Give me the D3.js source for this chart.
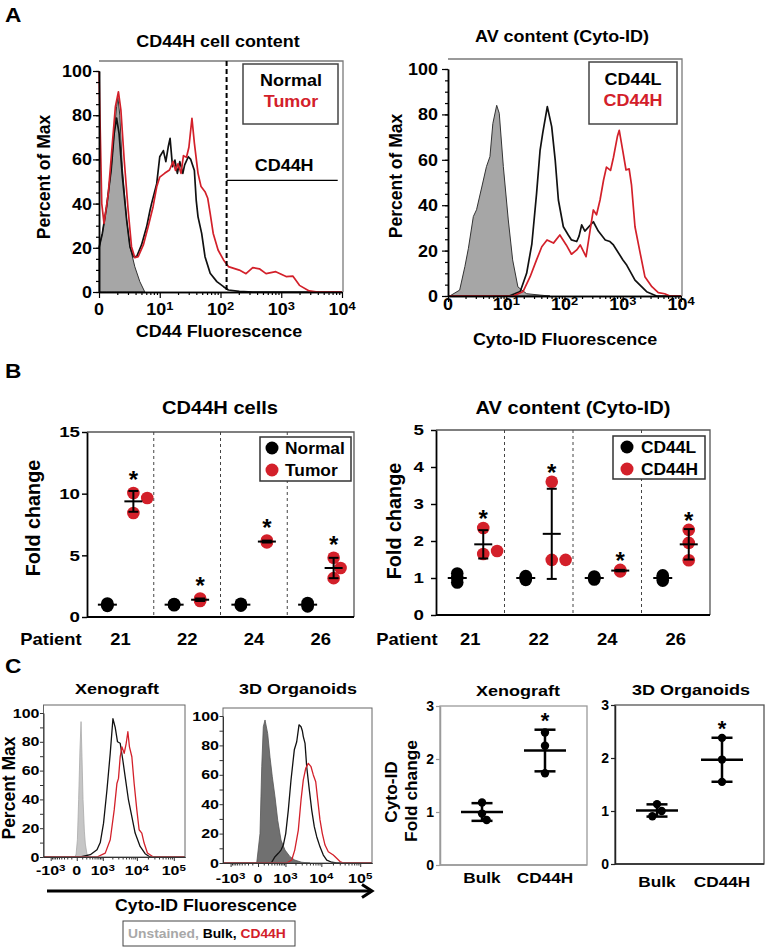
<!DOCTYPE html>
<html><head><meta charset="utf-8">
<script src="https://cdn.jsdelivr.net/npm/d3@7"></script>
<style>body{margin:0;background:#fff}svg{display:block}</style>
</head><body><svg id="fig" width="765" height="947"></svg>
<script>
// ================= DATA =================
// Panel A: log-scale fluorescence histograms [fluorescence, percent of max]
const logTicks = [1, 10, 100, 1000, 10000];
const pctTicks = [0, 20, 40, 60, 80, 100];

const cd44Isotype = [[1,0],[1,20],[1.135,26.5],[1.334,38.6],[1.585,55.2],[1.778,72],[1.95,84],[2.05,88],[2.2,80],[2.427,56],[2.851,32.6],[3.236,20.5],[3.89,11.4],[4.7,4.7],[5.68,0]];
const cd44Normal = [[1,20],[1.135,26.5],[1.334,38.6],[1.585,55.2],[1.778,71.8],[1.95,78.7],[2.138,71.8],[2.427,52.2],[2.851,32.6],[3.236,20.5],[3.673,16],[4.169,16],[5.012,21.3],[6.095,29.6],[6.918,37],[7.33,40],[8.913,49],[10,61.2],[11.48,64],[12.59,59],[13.8,65.7],[14.79,69.5],[16.22,56.7],[17.78,59.7],[19.5,53.7],[21.38,59],[23.99,53.7],[25.7,57.5],[29.51,61.2],[32.36,60],[37.15,55],[39.81,41.6],[42.66,34],[48.98,26.5],[55.6,16],[67.6,8.5],[87.1,4.7],[112.2,2.4],[134.9,0.9],[204,0.3],[339,0],[10000,0]];
const cd44Tumor = [[1,100],[1.11,40],[1.21,31],[1.422,44.6],[1.66,67.3],[1.862,83.9],[2.089,90.6],[2.291,82.4],[2.6,59.7],[3.02,37],[3.428,20.5],[3.89,15.5],[4.416,16],[5.37,21.3],[6.457,29.6],[7.762,38.6],[8.913,47.6],[10,52],[12.02,53.7],[14.45,55.2],[16.6,59],[18.2,55],[19.95,58],[22.39,53.7],[24.55,61.7],[27.54,61],[30.2,65.5],[33.88,78.6],[37.15,67.4],[42.66,53.7],[47.86,47.7],[55.6,45.4],[61.66,42.4],[67.6,35.6],[75.86,26.5],[91.2,19],[112.2,14.5],[134.9,11.5],[204,9.9],[263,8.3],[339,11],[436.5,10.5],[562,8.3],[813,9.2],[1202,7],[1549,7.2],[1995,3],[2884,0.5],[3981,0],[10000,0]];
const cd44HGate = [126, 8500, 50.5]; // gate start, gate end, level (%)

const cytoUnstainedA = [[1.072,0],[1.585,2.6],[1.95,13],[2.239,21],[2.723,35],[3.09,38],[3.802,48],[4.571,57],[5.248,61.4],[5.888,76],[6.855,84],[7.586,80.5],[8.913,57],[10.84,33.5],[12.88,15.9],[15.85,4],[22.39,1],[38.02,0.4],[56.23,0]];
const cytoCD44L_A = [[1,0],[11.22,0],[17.38,2],[22.39,10],[27.54,23],[33.11,45],[38.02,64],[42.27,71.7],[50.7,83.4],[60.26,74.6],[69.18,60],[78.52,42.3],[95.5,30.5],[116.1,26.9],[131.8,24.7],[162.2,24],[177.8,26.4],[197.2,31.3],[223.9,28.6],[312.6,32.7],[380.2,28.6],[501.2,24.7],[602.6,24],[691.8,22.5],[1000,16],[1175,13.5],[1622,7],[2570,1.9],[3802,0],[10000,0]];
const cytoCD44H_A = [[1,0],[13.18,0],[19.5,2],[25.7,8.5],[33.11,15.9],[40.74,21.7],[50.12,24.7],[64.57,23.3],[83.18,26.9],[107.2,22.5],[131.8,18.4],[162.2,20.3],[186.2,22.5],[234.4,17.3],[275.4,29],[312.6,37.9],[354.8,35.8],[407.4,42.3],[467.7,51],[524.8,56.8],[616.6,55.3],[691.8,61],[812.8,70.5],[871,73],[1000,64],[1138,55.5],[1288,56],[1413,49],[1622,30.5],[1995,18.8],[2399,8.5],[3162,4.1],[4074,1.5],[5248,1],[6457,0],[10000,0]];

// Panel B: fold change per patient (3 replicates each)
const patients = ["21", "22", "24", "26"];
const cd44hNormal = [[0.9,1.0,1.1],[0.95,1.0,1.05],[0.92,1.0,1.08],[0.86,1.0,1.14]];
const cd44hTumor  = [[8.43,10.05,9.65],[1.3,1.5,1.4],[6.05,6.2,6.1],[3.15,4.8,3.97]];
const avCD44L = [[0.88,1.0,1.12],[0.95,1.0,1.05],[0.96,1.0,1.04],[0.93,1.0,1.07]];
const avCD44H = [[1.65,2.35,1.73],[1.49,3.6,1.49],[1.18,1.2,1.22],[2.3,1.48,1.95]];

// Panel C: biexponential histograms [fluorescence, percent max]
const biexDomain = [-1700, 200000];
const biexTicks = [-1000, 0, 1000, 10000, 100000];
const biexMinor = [-900,-800,-700,-600,-500,-400,-300,-200,-100,100,200,300,400,500,600,700,800,900,2000,3000,4000,5000,6000,7000,8000,9000,20000,30000,40000,50000,60000,70000,80000,90000];
const xenoUnstained = [[-30,0],[-10,2],[10,12],[31,40],[55,75],[76,94],[95,70],[118,40],[150,18],[175,9],[220,2],[260,0]];
const xenoBulk = [[-1700,0],[62,0],[327,1.6],[622,5],[818,10],[1058,23.5],[1364,46.5],[1727,72],[2085,96],[2438,90],[2848,80],[3408,79],[4068,67],[4725,55.7],[5846,39.6],[7263,28],[8950,16.6],[12270,7.3],[16800,2.3],[22900,0],[200000,0]];
const xenoCD44H = [[-1700,0],[622,0],[1203,2.7],[1727,12],[2278,32.7],[2735,51],[3043,54.6],[3408,69.6],[3812,76.5],[4428,72],[5040,78.8],[5625,87],[6230,76.5],[7263,69.6],[8410,51],[9970,32.7],[11525,18.9],[13650,16.6],[15775,9.7],[19375,2.8],[28125,0],[200000,0]];
const orgUnstained = [[-20,0],[31,20],[61,65.5],[91,92.7],[127,97.3],[191,88],[255,72],[328,58.7],[427,45],[545,29],[713,15.6],[969,8.8],[1383,4.3],[1905,2],[2993,0.5],[5030,0]];
const orgBulk = [[-1700,0],[250,0],[308,0.5],[427,4.3],[572,6.6],[713,8.8],[853,12.2],[1020,20],[1228,36],[1481,56.5],[1852,77],[2170,82.5],[2520,94],[2866,92.7],[3110,90],[3312,86],[3690,81.4],[4097,65.5],[4817,49.7],[5585,36],[6535,24.7],[7570,17.9],[9230,11],[11270,5.4],[13830,2],[18600,0.5],[25000,0],[200000,0]];
const orgCD44H = [[-1700,0],[1096,0],[1555,2],[1905,8.8],[2408,22.4],[2866,42.9],[3312,56.5],[3852,64.4],[4527,67.8],[5350,65.5],[6155,59.9],[7130,55.3],[8045,42.9],[9230,29.3],[10590,20.2],[12470,12.2],[15180,7.7],[20450,5.4],[25000,3.2],[30400,1],[37100,0],[200000,0]];

// Panel C: Cyto-ID fold change
const cytoGroups = ["Bulk", "CD44H"];
const foldTicks = [0, 1, 2, 3];
const xenoFold = [[1.18,0.97,0.85],[2.5,2.25,1.73]];
const orgFold  = [[1.13,1.0,0.9],[2.38,1.97,1.55]];

// ================= DRAWING =================
const FONT = '"Liberation Sans", Arial, Helvetica, sans-serif';
const RED = "#d3202a";
const svg = d3.select("#fig");
svg.append("rect").attr("width", 765).attr("height", 947).attr("fill", "#fff");

function label(g, x, y, content, size, o = {}) {
  const t = g.append("text")
    .attr("transform", o.rotate ? `translate(${x},${y}) rotate(-90)` : `translate(${x},${y}) scale(${o.sx || 1},1)`)
    .attr("font-family", FONT).attr("font-weight", "bold").attr("font-size", size)
    .attr("text-anchor", o.anchor || "middle").attr("fill", o.fill || "#000");
  const parts = Array.isArray(content) ? content : [{ t: content }];
  parts.forEach(p => {
    const s = t.append("tspan").text(p.t);
    if (p.fill) s.attr("fill", p.fill);
    if (p.sup) s.attr("dy", "-0.42em").attr("font-size", size * 0.72);
  });
  return t;
}
const pow10 = (e, neg) => [{ t: (neg ? "-" : "") + "10" }, { t: String(e), sup: true }];

function styleAxis(sel, color = "#000", w = 1.5) {
  sel.select(".domain").attr("stroke", color).attr("stroke-width", w);
  sel.selectAll(".tick line").attr("stroke", color).attr("stroke-width", Math.max(1, w * 0.8));
  sel.selectAll(".tick text").remove();
}

// ---------- Panel A ----------
function logHistPanel(p) {
  const g = svg.append("g");
  const x = d3.scaleLog().domain([logTicks[0], logTicks[logTicks.length - 1]]).range([p.x0, p.x1]);
  const y = d3.scaleLinear().domain([0, 100]).range([p.yBase, p.y100]);
  const area = d3.area().x(d => x(d[0])).y0(y(0)).y1(d => y(d[1]));
  const line = d3.line().x(d => x(d[0])).y(d => y(d[1]));
  g.append("path").attr("d", area(p.fill)).attr("fill", "#a6a6a6").attr("stroke", "#333").attr("stroke-width", 1);
  p.lines.forEach(l => g.append("path").attr("d", line(l.data)).attr("fill", "none")
    .attr("stroke", l.color).attr("stroke-width", 1.7).attr("stroke-linejoin", "round"));
  g.append("path").attr("d", `M${p.x0},${p.top}H${p.right}V${p.yBase}`).attr("fill", "none").attr("stroke", "#7a7a7a").attr("stroke-width", 1.3);
  const yg = g.append("g").attr("transform", `translate(${p.x0},0)`);
  yg.append("g").call(d3.axisLeft(y).tickValues(d3.range(0, 101, 5)).tickSize(3).tickSizeOuter(0)).call(styleAxis);
  yg.append("g").call(d3.axisLeft(y).tickValues(pctTicks).tickSize(6).tickSizeOuter(0)).call(styleAxis);
  pctTicks.forEach(v => label(g, p.yLabelX, y(v) + 6, String(v), 16.3, { anchor: "end", sx: 1.1 }));
  const minor = [];
  logTicks.slice(0, -1).forEach(d => { for (let k = 2; k < 10; k++) minor.push(d * k); });
  const xg = g.append("g").attr("transform", `translate(0,${p.yBase})`);
  xg.append("g").call(d3.axisBottom(x).tickValues(minor).tickSize(3).tickSizeOuter(0)).call(styleAxis);
  xg.append("g").call(d3.axisBottom(x).tickValues(logTicks).tickSize(6).tickSizeOuter(0)).call(styleAxis);
  logTicks.forEach((v, i) => label(g, x(v), p.xLabelY, i === 0 ? "0" : pow10(Math.round(Math.log10(v))), 16.3, { sx: 1.1 }));
  label(g, p.titleX, p.titleY, p.title, 16.3, { sx: 1.1 });
  label(g, p.xTitleX, p.xTitleY, p.xTitle, 16.3, { sx: 1.1 });
  label(g, p.yTitleX, p.yTitleY, "Percent of Max", 17.5, { rotate: true });
  const L = p.legend;
  g.append("rect").attr("x", L.x).attr("y", L.y).attr("width", L.w).attr("height", L.h)
    .attr("fill", "#fff").attr("stroke", "#444").attr("stroke-width", 1.5);
  L.items.forEach((it, i) => label(g, L.cx, L.base[i], it[0], 16.8, { sx: 1.07, fill: it[1] }));
  return { g, x, y };
}

const aLeft = logHistPanel({
  x0: 99, x1: 342, right: 343, top: 61, yBase: 292, y100: 71,
  fill: cd44Isotype, lines: [{ data: cd44Normal, color: "#111" }, { data: cd44Tumor, color: RED }],
  yLabelX: 92, xLabelY: 315,
  title: "CD44H cell content", titleX: 218, titleY: 47,
  xTitle: "CD44 Fluorescence", xTitleX: 219, xTitleY: 337,
  yTitleX: 50, yTitleY: 177,
  legend: { x: 243, y: 64, w: 95, h: 60, cx: 291, base: [86, 107], items: [["Normal", "#000"], ["Tumor", RED]] }
});
// dashed gate line and CD44H gate
(function () {
  const { g, x, y } = aLeft;
  g.append("line").attr("x1", x(cd44HGate[0])).attr("x2", x(cd44HGate[0])).attr("y1", 61).attr("y2", 292)
    .attr("stroke", "#000").attr("stroke-width", 2).attr("stroke-dasharray", "5,3");
  g.append("line").attr("x1", x(cd44HGate[0])).attr("x2", x(cd44HGate[1])).attr("y1", y(cd44HGate[2])).attr("y2", y(cd44HGate[2]))
    .attr("stroke", "#000").attr("stroke-width", 1.2);
  label(g, (x(cd44HGate[0]) + x(cd44HGate[1])) / 2 + 2, y(cd44HGate[2]) - 9, "CD44H", 16.8, { sx: 1.07 });
})();

logHistPanel({
  x0: 448, x1: 681, right: 682, top: 59, yBase: 296, y100: 69,
  fill: cytoUnstainedA, lines: [{ data: cytoCD44L_A, color: "#111" }, { data: cytoCD44H_A, color: RED }],
  yLabelX: 438, xLabelY: 310,
  title: "AV content (Cyto-ID)", titleX: 562, titleY: 42,
  xTitle: "Cyto-ID Fluorescence", xTitleX: 565, xTitleY: 345,
  yTitleX: 402, yTitleY: 176,
  legend: { x: 589, y: 62, w: 88, h: 62, cx: 633, base: [85, 106], items: [["CD44L", "#000"], ["CD44H", RED]] }
});

// ---------- shared dot group ----------
function swarm(ys, r, spread) {
  if (!spread) return ys.map(() => 0);
  const ext = d3.extent(ys);
  if (ext[1] - ext[0] < r) return ys.map(() => 0);
  const placed = [];
  return ys.map(py => {
    for (const k of [0, 1, -1, 2, -2]) {
      const o = k * r * 1.1;
      if (placed.every(q => Math.hypot(q[0] - o, q[1] - py) >= 1.8 * r)) { placed.push([o, py]); return o; }
    }
    placed.push([0, py]); return 0;
  });
}
function dotGroup(g, vals, cx, y, color, r, mHalf, cHalf, sw, spread) {
  const offs = swarm(vals.map(y), r, spread);
  g.append("g").selectAll("circle").data(vals).join("circle")
    .attr("cx", (d, i) => cx + offs[i]).attr("cy", d => y(d)).attr("r", r).attr("fill", color);
  const m = d3.mean(vals), sd = d3.deviation(vals);
  const lg = g.append("g").attr("stroke", "#000").attr("stroke-width", sw);
  lg.append("line").attr("x1", cx - mHalf).attr("x2", cx + mHalf).attr("y1", y(m)).attr("y2", y(m));
  lg.append("line").attr("x1", cx).attr("x2", cx).attr("y1", y(m - sd)).attr("y2", y(m + sd));
  [m - sd, m + sd].forEach(v => lg.append("line").attr("x1", cx - cHalf).attr("x2", cx + cHalf).attr("y1", y(v)).attr("y2", y(v)));
  return { m, sd, max: d3.max(vals), top: Math.max(d3.max(vals), m + sd) };
}

// ---------- Panel B ----------
function patientPanel(p) {
  const g = svg.append("g");
  const x = d3.scaleBand().domain(patients).range([p.x0, p.x1]);
  const y = d3.scaleLinear().domain([0, p.ticks[p.ticks.length - 1]]).range([p.yBase, p.yTop]);
  g.append("path").attr("d", `M${p.x0},${p.yTop}H${p.x1}V${p.yBase}`).attr("fill", "none").attr("stroke", "#555").attr("stroke-width", 1.3);
  patients.slice(1).forEach(d => g.append("line").attr("x1", x(d)).attr("x2", x(d)).attr("y1", p.yTop).attr("y2", p.yBase)
    .attr("stroke", "#444").attr("stroke-width", 1).attr("stroke-dasharray", "3,3"));
  g.append("g").attr("transform", `translate(${p.x0},0)`).call(d3.axisLeft(y).tickValues(p.ticks).tickSize(5).tickSizeOuter(0)).call(styleAxis, "#000", 1.8);
  p.ticks.forEach(v => label(g, p.tickLabelX, y(v) + 5.4, String(v), 15, { anchor: "end", sx: 1.25 }));
  g.append("line").attr("x1", p.x0).attr("x2", p.x1).attr("y1", p.yBase).attr("y2", p.yBase).attr("stroke", "#000").attr("stroke-width", 1.8);
  patients.forEach((d, i) => {
    const c = x(d) + x.bandwidth() / 2;
    dotGroup(g, p.a[i], c - 13, y, "#000", 6.3, 9.5, 5, 2, false);
    const s = dotGroup(g, p.b[i], c + 13, y, RED, 6.3, 9, 5, 2, true);
    label(g, c + 13, y(s.max) - p.starOff, "*", 24);
    label(g, c, 645, d, 16.3, { sx: 1.13 });
  });
  label(g, p.patientX, 645, "Patient", 16.3, { sx: 1.13 });
  label(g, p.titleX, 414, p.title, 18.6, { sx: 1.08 });
  label(g, p.yTitleX, p.yTitleY, "Fold change", 19.8, { rotate: true });
  const L = p.legend;
  g.append("rect").attr("x", L.x).attr("y", L.y).attr("width", L.w).attr("height", L.h)
    .attr("fill", "#fff").attr("stroke", "#333").attr("stroke-width", 1.5);
  L.items.forEach((it, i) => {
    g.append("circle").attr("cx", L.cx).attr("cy", L.cy[i]).attr("r", 6.5).attr("fill", it[1]);
    label(g, L.tx, L.cy[i] + 5.7, it[0], 15.8, { anchor: "start", sx: 1.1 });
  });
}

patientPanel({
  x0: 87, x1: 354, yBase: 617, yTop: 432, ticks: [0, 5, 10, 15], tickLabelX: 80,
  a: cd44hNormal, b: cd44hTumor, starOff: 5, patientX: 51,
  title: "CD44H cells", titleX: 220, yTitleX: 40, yTitleY: 518,
  legend: { x: 260, y: 437, w: 91, h: 44, cx: 272, tx: 285, cy: [448, 470], items: [["Normal", "#000"], ["Tumor", RED]] }
});
patientPanel({
  x0: 436, x1: 710, yBase: 615, yTop: 430, ticks: [0, 1, 2, 3, 4, 5], tickLabelX: 424,
  a: avCD44L, b: avCD44H, starOff: 1, patientX: 407,
  title: "AV content (Cyto-ID)", titleX: 573, yTitleX: 401, yTitleY: 521,
  legend: { x: 613, y: 436, w: 92, h: 43, cx: 627, tx: 641, cy: [447, 469], items: [["CD44L", "#000"], ["CD44H", RED]] }
});

// ---------- Panel C histograms ----------
function biexHistPanel(p) {
  const g = svg.append("g");
  const x = d3.scaleSymlog().constant(250).domain(biexDomain).range([p.x0, p.x1]);
  const y = d3.scaleLinear().domain([0, 100]).range([p.yBase, p.y100]);
  const area = d3.area().x(d => x(d[0])).y0(y(0)).y1(d => y(d[1]));
  const line = d3.line().x(d => x(d[0])).y(d => y(d[1]));
  g.append("path").attr("d", area(p.fill)).attr("fill", p.fillColor).attr("stroke", p.fillStroke).attr("stroke-width", 0.8);
  p.lines.forEach(l => g.append("path").attr("d", line(l.data)).attr("fill", "none")
    .attr("stroke", l.color).attr("stroke-width", 1.3).attr("stroke-linejoin", "round"));
  g.append("rect").attr("x", p.x0).attr("y", p.top).attr("width", p.x1 - p.x0).attr("height", p.yBase - p.top)
    .attr("fill", "none").attr("stroke", "#666").attr("stroke-width", 1);
  g.append("g").attr("transform", `translate(${p.x0},0)`).call(d3.axisLeft(y).tickValues(d3.range(0, 101, 10)).tickSize(3.5).tickSizeOuter(0)).call(styleAxis, "#333", 1);
  pctTicks.forEach(v => label(g, p.x0 - 4, y(v) + 4.5, String(v), 12.6, { anchor: "end", sx: 1.27 }));
  const xg = g.append("g").attr("transform", `translate(0,${p.yBase})`);
  xg.append("g").call(d3.axisBottom(x).tickValues(biexMinor).tickSize(2.5).tickSizeOuter(0)).call(styleAxis, "#333", 1);
  xg.append("g").call(d3.axisBottom(x).tickValues(biexTicks).tickSize(4).tickSizeOuter(0)).call(styleAxis, "#333", 1);
  biexTicks.forEach(v => label(g, x(v), p.xLabelY, v === 0 ? "0" : pow10(Math.round(Math.log10(Math.abs(v))), v < 0), 12.6, { sx: 1.27 }));
  label(g, p.titleX, 694, p.title, 15, { sx: 1.2 });
}
biexHistPanel({
  x0: 43.5, x1: 185, top: 705, yBase: 857, y100: 713, xLabelY: 875,
  fill: xenoUnstained, fillColor: "#c6c6c6", fillStroke: "#aaa",
  lines: [{ data: xenoBulk, color: "#111" }, { data: xenoCD44H, color: RED }],
  title: "Xenograft", titleX: 117
});
biexHistPanel({
  x0: 223, x1: 372, top: 708, yBase: 863, y100: 716, xLabelY: 883,
  fill: orgUnstained, fillColor: "#707070", fillStroke: "#555",
  lines: [{ data: orgBulk, color: "#111" }, { data: orgCD44H, color: RED }],
  title: "3D Organoids", titleX: 298
});
(function () {
  const g = svg.append("g");
  label(g, 15, 788, "Percent Max", 17.5, { rotate: true });
  g.append("line").attr("x1", 47).attr("x2", 371).attr("y1", 891).attr("y2", 891).attr("stroke", "#000").attr("stroke-width", 3);
  g.append("path").attr("d", "M362,884.5L372,891L362,897.5").attr("fill", "none").attr("stroke", "#000").attr("stroke-width", 3).attr("stroke-linejoin", "miter");
  label(g, 206, 911, "Cyto-ID Fluorescence", 15.8, { sx: 1.12 });
  g.append("rect").attr("x", 123).attr("y", 921).attr("width", 172).attr("height", 25).attr("fill", "#fff").attr("stroke", "#444").attr("stroke-width", 1);
  label(g, 128, 938, [{ t: "Unstained, ", fill: "#a8a8a8" }, { t: "Bulk, ", fill: "#000" }, { t: "CD44H", fill: RED }], 12.6, { anchor: "start", sx: 1.1 });
})();

// ---------- Panel C fold change ----------
function twoGroupPanel(p) {
  const g = svg.append("g");
  const x = d3.scalePoint().domain(cytoGroups).range([p.x0, p.x1]).padding(p.pad);
  const y = d3.scaleLinear().domain([0, foldTicks[foldTicks.length - 1]]).range([p.yBase, p.yTop]);
  g.append("rect").attr("x", p.x0).attr("y", p.yTop).attr("width", p.x1 - p.x0).attr("height", p.yBase - p.yTop)
    .attr("fill", "none").attr("stroke", p.frame).attr("stroke-width", 1.3);
  g.append("g").attr("transform", `translate(${p.x0},0)`).call(d3.axisLeft(y).tickValues(foldTicks).tickSize(4).tickSizeOuter(0)).call(styleAxis, p.axis, 1.5);
  g.append("line").attr("x1", p.x0).attr("x2", p.x1).attr("y1", p.yBase).attr("y2", p.yBase).attr("stroke", p.axis).attr("stroke-width", 1.5);
  foldTicks.forEach(v => label(g, p.x0 - 6, y(v) + 5, String(v), 14, { anchor: "end" }));
  cytoGroups.forEach((d, i) => {
    const s = dotGroup(g, p.data[i], x(d), y, "#000", 4.2, 21, 10.5, 2.5, true);
    if (i === 1) label(g, x(d), y(s.top) - 2, "*", 22);
    label(g, x(d), p.labelY, d, 15.4, { sx: 1.12 });
  });
  label(g, p.titleX, p.titleY, p.title, 15, { sx: 1.2 });
}
twoGroupPanel({ x0: 440, x1: 587, yBase: 865, yTop: 706, pad: 0.667, data: xenoFold, frame: "#9a9a9a", axis: "#9a9a9a", labelY: 883, title: "Xenograft", titleX: 518, titleY: 696 });
twoGroupPanel({ x0: 615, x1: 764, yBase: 864, yTop: 705, pad: 0.646, data: orgFold, frame: "#555", axis: "#222", labelY: 887, title: "3D Organoids", titleX: 691, titleY: 695 });
(function () {
  const g = svg.append("g");
  label(g, 397, 792, "Cyto-ID", 17.3, { rotate: true });
  label(g, 417, 791, "Fold change", 17.3, { rotate: true });
  label(g, 5, 22, "A", 21, { anchor: "start", sx: 1.08 });
  label(g, 5, 378, "B", 21, { anchor: "start", sx: 1.08 });
  label(g, 5, 673, "C", 21, { anchor: "start", sx: 1.08 });
})();
</script></body></html>
